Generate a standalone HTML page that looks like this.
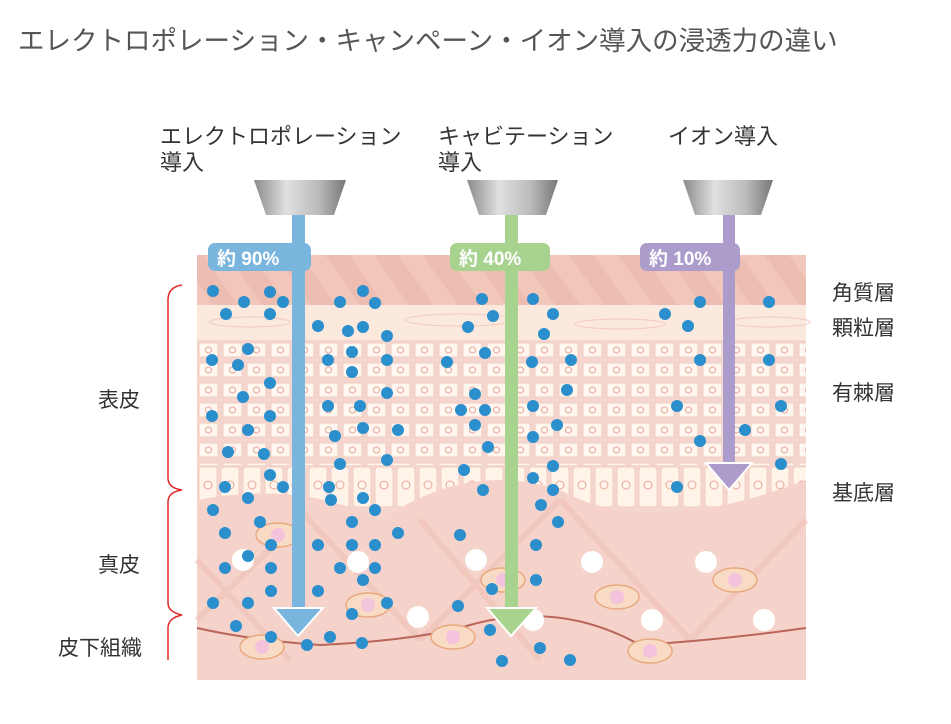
<!DOCTYPE html>
<html><head><meta charset="utf-8"><style>
body{margin:0;background:#fff;width:951px;height:719px;overflow:hidden;font-family:"Liberation Sans","Noto Sans CJK JP",sans-serif}
</style></head><body>
<svg width="951" height="719" xmlns="http://www.w3.org/2000/svg" style="font-family:'Liberation Sans','Noto Sans CJK JP',sans-serif">
<text x="18" y="50" font-size="26.5" fill="#555">エレクトロポレーション・キャンペーン・イオン導入の浸透力の違い</text>
<g font-size="22" fill="#333">
<text x="160" y="144">エレクトロポレーション</text><text x="160" y="170">導入</text>
<text x="438" y="144">キャビテーション</text><text x="438" y="170">導入</text>
<text x="668" y="144">イオン導入</text>
</g>
<defs><linearGradient id="cone" x1="0" x2="1"><stop offset="0" stop-color="#8a8a8a"/><stop offset=".35" stop-color="#e0e0e0"/><stop offset=".7" stop-color="#bbb"/><stop offset="1" stop-color="#777"/></linearGradient>
<pattern id="cells" x="197" y="340" width="24" height="20" patternUnits="userSpaceOnUse"><rect x="2" y="3" width="19" height="14" fill="#fff6ef" stroke="#f0cfc0"/><circle cx="11.5" cy="10" r="3" fill="none" stroke="#e9a99a"/></pattern>
<pattern id="basal" x="197" y="465" width="22" height="45" patternUnits="userSpaceOnUse"><rect x="2" y="2" width="18" height="40" rx="3" fill="#fff3ea" stroke="#efcdbf"/><circle cx="11" cy="20" r="4" fill="none" stroke="#e9a99a"/></pattern>
<pattern id="stripe" x="0" y="0" width="40" height="40" patternUnits="userSpaceOnUse" patternTransform="rotate(-35)"><rect width="40" height="40" fill="#f1c6bb"/><rect width="20" height="40" fill="#eebdb1"/></pattern>
</defs>
<!-- skin -->
<rect x="197" y="255" width="609" height="425" fill="#f5d6cf"/>
<rect x="197" y="255" width="609" height="50" fill="url(#stripe)"/>
<rect x="197" y="305" width="609" height="35" fill="#fbe9dd"/>
<g fill="none" stroke="#f2c9bd"><ellipse cx="250" cy="322" rx="40" ry="5"/><ellipse cx="460" cy="320" rx="55" ry="6"/><ellipse cx="620" cy="324" rx="45" ry="5"/><ellipse cx="770" cy="322" rx="40" ry="5"/></g>
<rect x="197" y="340" width="609" height="125" fill="url(#cells)"/>
<rect x="197" y="465" width="609" height="45" fill="url(#basal)"/>
<path d="M197 500 Q300 480 380 520 Q470 460 560 490 Q650 540 806 480 L806 680 L197 680Z" fill="#f5d3cb"/>
<g stroke="#efc2b8" stroke-width="6" fill="none" opacity=".7"><path d="M197 560 L290 660 M300 510 L420 640 M420 640 L560 500 M560 500 L690 640 M690 640 L806 520 M197 620 L300 520 M420 520 L540 660"/></g>
<path d="M197 628 Q250 640 320 645 Q420 640 470 625 Q560 600 640 645 Q720 640 806 628" fill="none" stroke="#b9655a" stroke-width="2"/>
<g fill="#f9dbc5" stroke="#e8a97d" stroke-width="1.5"><ellipse cx="278" cy="535" rx="22" ry="12"/><ellipse cx="368" cy="605" rx="22" ry="12"/><ellipse cx="503" cy="580" rx="22" ry="12"/><ellipse cx="617" cy="597" rx="22" ry="12"/><ellipse cx="735" cy="580" rx="22" ry="12"/><ellipse cx="453" cy="637" rx="22" ry="12"/><ellipse cx="650" cy="651" rx="22" ry="12"/><ellipse cx="262" cy="647" rx="22" ry="12"/></g>
<g fill="#f3c2dc"><circle cx="278" cy="535" r="7"/><circle cx="368" cy="605" r="7"/><circle cx="503" cy="580" r="7"/><circle cx="617" cy="597" r="7"/><circle cx="735" cy="580" r="7"/><circle cx="453" cy="637" r="7"/><circle cx="650" cy="651" r="7"/><circle cx="262" cy="647" r="7"/></g>
<g fill="#fff"><circle cx="243" cy="560" r="11"/><circle cx="358" cy="562" r="11"/><circle cx="418" cy="617" r="11"/><circle cx="476" cy="560" r="11"/><circle cx="533" cy="620" r="11"/><circle cx="592" cy="562" r="11"/><circle cx="652" cy="620" r="11"/><circle cx="706" cy="562" r="11"/><circle cx="764" cy="620" r="11"/></g>
<!-- dots -->
<g fill="#2a8fcc">
<circle cx="213" cy="291" r="6"/><circle cx="244" cy="302" r="6"/><circle cx="270" cy="292" r="6"/><circle cx="283" cy="302" r="6"/><circle cx="226" cy="314" r="6"/><circle cx="270" cy="314" r="6"/>
<circle cx="340" cy="302" r="6"/><circle cx="363" cy="291" r="6"/><circle cx="375" cy="303" r="6"/><circle cx="318" cy="326" r="6"/><circle cx="348" cy="331" r="6"/><circle cx="363" cy="327" r="6"/><circle cx="387" cy="336" r="6"/>
<circle cx="212" cy="360" r="6"/><circle cx="248" cy="349" r="6"/><circle cx="238" cy="365" r="6"/><circle cx="270" cy="383" r="6"/><circle cx="243" cy="397" r="6"/><circle cx="212" cy="416" r="6"/><circle cx="270" cy="416" r="6"/><circle cx="248" cy="430" r="6"/><circle cx="228" cy="452" r="6"/><circle cx="264" cy="454" r="6"/>
<circle cx="328" cy="360" r="6"/><circle cx="352" cy="352" r="6"/><circle cx="352" cy="372" r="6"/><circle cx="387" cy="360" r="6"/><circle cx="328" cy="406" r="6"/><circle cx="360" cy="406" r="6"/><circle cx="387" cy="393" r="6"/><circle cx="335" cy="436" r="6"/><circle cx="363" cy="428" r="6"/><circle cx="398" cy="430" r="6"/><circle cx="340" cy="464" r="6"/><circle cx="387" cy="460" r="6"/>
<circle cx="270" cy="475" r="6"/><circle cx="225" cy="487" r="6"/><circle cx="283" cy="487" r="6"/><circle cx="248" cy="498" r="6"/><circle cx="213" cy="510" r="6"/><circle cx="260" cy="522" r="6"/><circle cx="225" cy="533" r="6"/><circle cx="271" cy="545" r="6"/><circle cx="248" cy="556" r="6"/><circle cx="225" cy="568" r="6"/><circle cx="271" cy="568" r="6"/><circle cx="271" cy="591" r="6"/><circle cx="213" cy="603" r="6"/><circle cx="248" cy="603" r="6"/><circle cx="236" cy="626" r="6"/><circle cx="271" cy="637" r="6"/>
<circle cx="329" cy="487" r="6"/><circle cx="363" cy="498" r="6"/><circle cx="331" cy="500" r="6"/><circle cx="375" cy="510" r="6"/><circle cx="352" cy="522" r="6"/><circle cx="398" cy="533" r="6"/><circle cx="318" cy="545" r="6"/><circle cx="352" cy="545" r="6"/><circle cx="375" cy="545" r="6"/><circle cx="340" cy="568" r="6"/><circle cx="375" cy="568" r="6"/><circle cx="363" cy="580" r="6"/><circle cx="318" cy="591" r="6"/><circle cx="387" cy="603" r="6"/><circle cx="352" cy="614" r="6"/><circle cx="307" cy="645" r="6"/><circle cx="330" cy="637" r="6"/><circle cx="362" cy="643" r="6"/>
<circle cx="482" cy="299" r="6"/><circle cx="533" cy="299" r="6"/><circle cx="493" cy="316" r="6"/><circle cx="468" cy="327" r="6"/><circle cx="553" cy="314" r="6"/><circle cx="544" cy="334" r="6"/>
<circle cx="447" cy="362" r="6"/><circle cx="485" cy="353" r="6"/><circle cx="532" cy="362" r="6"/><circle cx="571" cy="360" r="6"/><circle cx="475" cy="394" r="6"/><circle cx="567" cy="390" r="6"/><circle cx="461" cy="410" r="6"/><circle cx="485" cy="410" r="6"/><circle cx="533" cy="406" r="6"/><circle cx="475" cy="425" r="6"/><circle cx="557" cy="425" r="6"/><circle cx="533" cy="437" r="6"/><circle cx="488" cy="447" r="6"/><circle cx="464" cy="470" r="6"/><circle cx="553" cy="466" r="6"/><circle cx="533" cy="478" r="6"/>
<circle cx="483" cy="490" r="6"/><circle cx="553" cy="490" r="6"/><circle cx="541" cy="505" r="6"/><circle cx="558" cy="522" r="6"/><circle cx="460" cy="535" r="6"/><circle cx="536" cy="545" r="6"/><circle cx="536" cy="580" r="6"/><circle cx="492" cy="589" r="6"/><circle cx="458" cy="606" r="6"/><circle cx="490" cy="630" r="6"/><circle cx="502" cy="661" r="6"/><circle cx="540" cy="648" r="6"/><circle cx="570" cy="660" r="6"/>
<circle cx="665" cy="314" r="6"/><circle cx="700" cy="302" r="6"/><circle cx="688" cy="326" r="6"/><circle cx="769" cy="302" r="6"/><circle cx="700" cy="360" r="6"/><circle cx="769" cy="360" r="6"/><circle cx="677" cy="406" r="6"/><circle cx="781" cy="406" r="6"/><circle cx="745" cy="430" r="6"/><circle cx="700" cy="441" r="6"/><circle cx="781" cy="464" r="6"/><circle cx="677" cy="487" r="6"/>
</g>
<!-- arrows -->
<g>
<rect x="292" y="215" width="13" height="395" fill="#7ab5de"/><polygon points="274,608 323,608 298,636" fill="#7ab5de" stroke="#fff" stroke-width="2"/>
<rect x="505" y="215" width="13" height="395" fill="#a8d38f"/><polygon points="487,608 536,608 511,636" fill="#a8d38f" stroke="#fff" stroke-width="2"/>
<rect x="723" y="215" width="12" height="250" fill="#ab9ccb"/><polygon points="706,463 752,463 729,490" fill="#ab9ccb" stroke="#fff" stroke-width="2"/>
</g>
<g fill="url(#cone)"><polygon points="254,180 346,180 334,215 266,215"/><polygon points="467,180 558,180 546,215 479,215"/><polygon points="683,180 773,180 761,215 695,215"/></g>
<g font-size="19" font-weight="bold" fill="#fff">
<rect x="208" y="243" width="103" height="28" rx="7" fill="#7ab5de"/><text x="217" y="265">約 90%</text>
<rect x="450" y="243" width="100" height="28" rx="7" fill="#a8d38f"/><text x="459" y="265">約 40%</text>
<rect x="640" y="243" width="100" height="28" rx="7" fill="#ab9ccb"/><text x="649" y="265">約 10%</text>
</g>
<g fill="none" stroke="#e02a2a" stroke-width="1.5"><path d="M182 285 Q168 287 168 300 L168 478 Q168 488 182 490 Q168 492 168 502 L168 603 Q168 612 182 615 Q168 618 168 628 L168 660"/></g>
<g font-size="21" fill="#333"><text x="98" y="407">表皮</text><text x="98" y="572">真皮</text><text x="58" y="655">皮下組織</text>
<text x="832" y="300">角質層</text><text x="832" y="335">顆粒層</text><text x="832" y="400">有棘層</text><text x="832" y="500">基底層</text></g>
</svg>
</body></html>
